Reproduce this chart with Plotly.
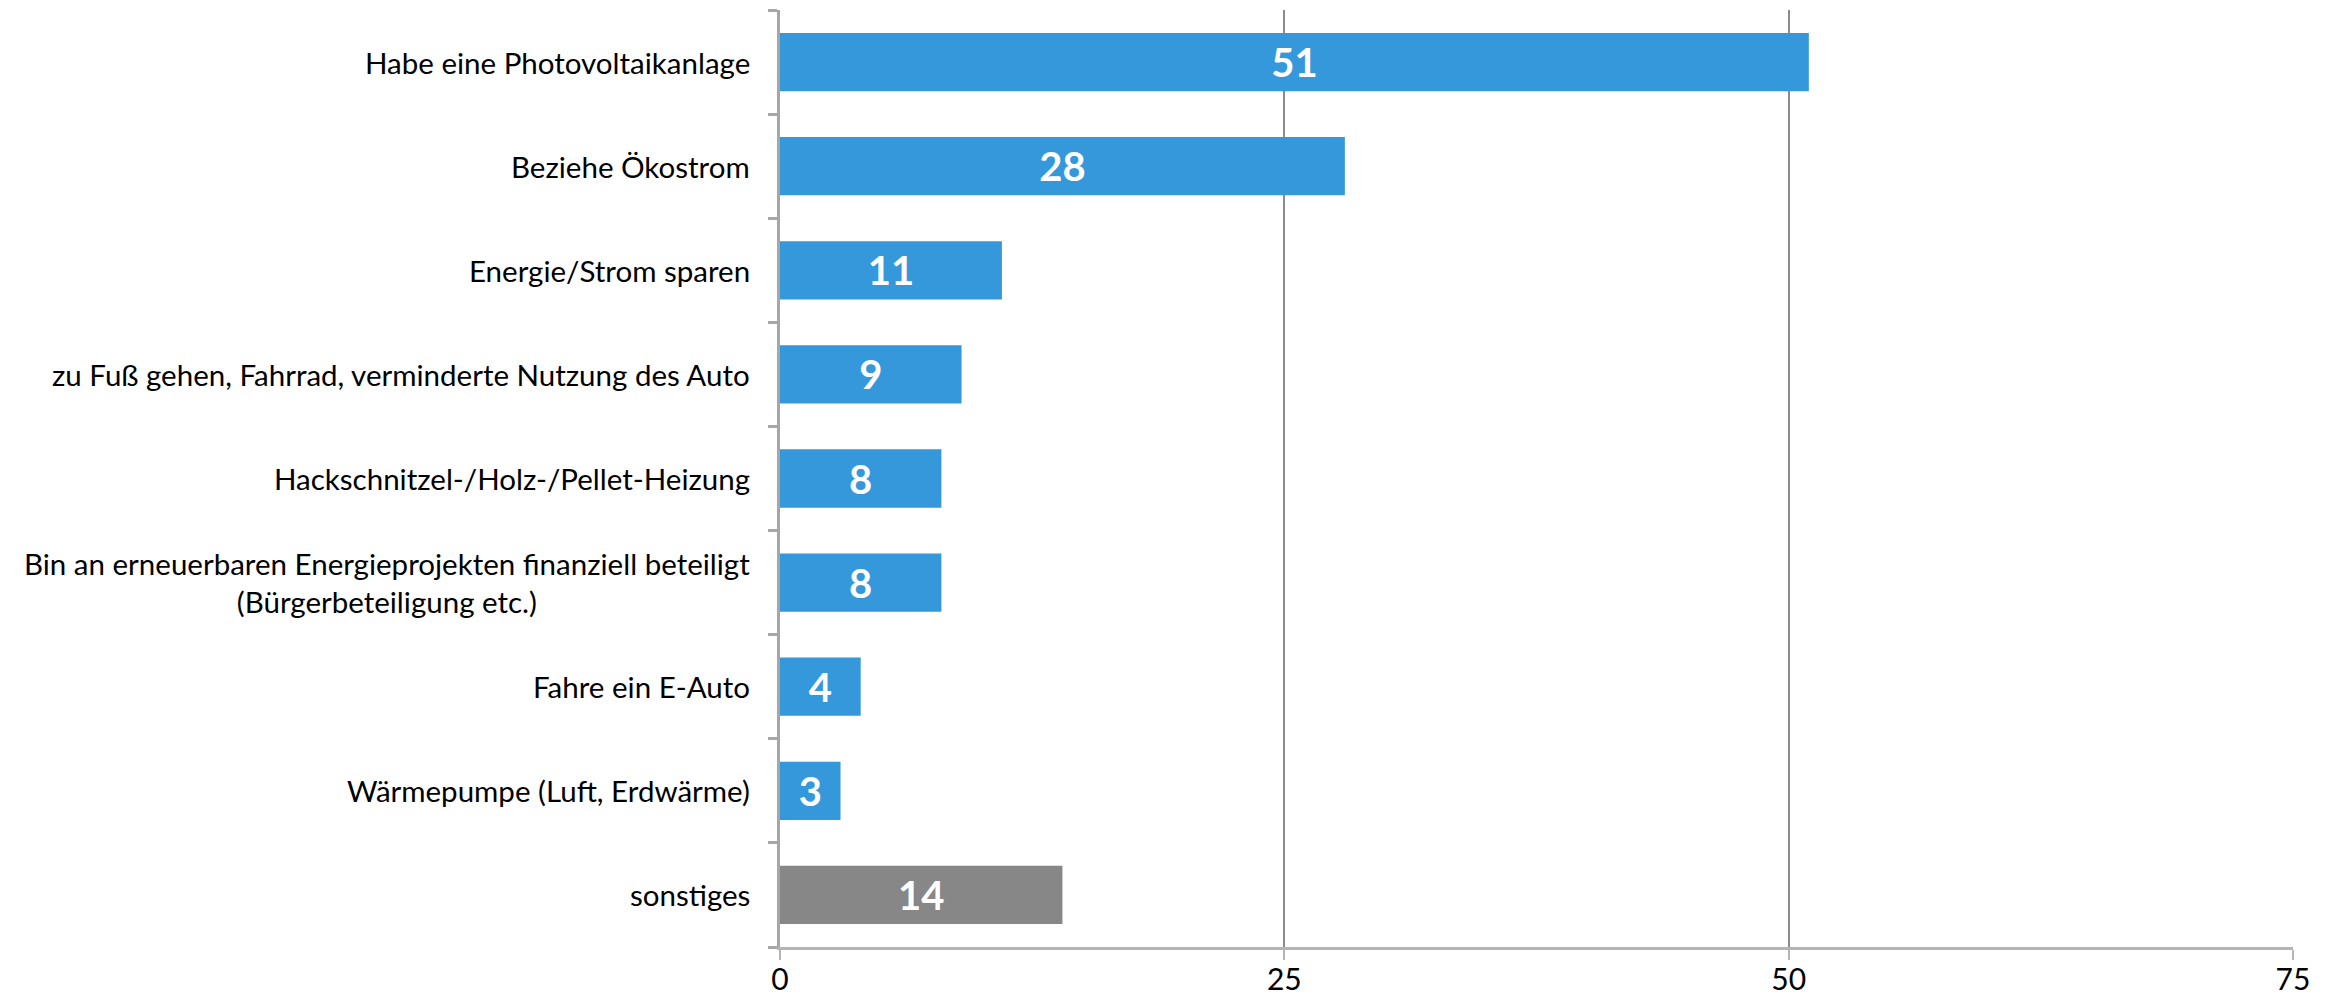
import plotly.graph_objects as go

categories = [
    "Habe eine Photovoltaikanlage",
    "Beziehe Ökostrom",
    "Energie/Strom sparen",
    "zu Fuß gehen, Fahrrad, verminderte Nutzung des Auto",
    "Hackschnitzel-/Holz-/Pellet-Heizung",
    "Bin an erneuerbaren Energieprojekten finanziell beteiligt<br>(Bürgerbeteiligung etc.)",
    "Fahre ein E-Auto",
    "Wärmepumpe (Luft, Erdwärme)",
    "sonstiges",
]
values = [51, 28, 11, 9, 8, 8, 4, 3, 14]
bar_colors = ["#3598DB"] * 8 + ["#878787"]
x_ticks = [0, 25, 50, 75]

FONT = "Lato"
W, H = 2338, 1001
ML, MR, MT, MB = 780, 45, 10, 54

fig = go.Figure(go.Bar(
    x=values,
    y=list(range(len(categories))),
    orientation="h",
    marker=dict(color=bar_colors, line=dict(width=0)),
    text=[str(v) for v in values],
    textposition="inside",
    insidetextanchor="middle",
    textangle=0,
    textfont=dict(family=FONT, size=40, color="white", weight="bold"),
    width=0.56,
    hoverinfo="skip",
))

for i, c in enumerate(categories):
    fig.add_annotation(
        x=0, xref="paper", y=i, yref="y",
        text=c, showarrow=False, xanchor="right", yanchor="middle",
        align="center", xshift=-28,
        font=dict(family=FONT, size=29.5, color="#000000"),
    )

fig.update_layout(
    width=W, height=H,
    margin=dict(l=ML, r=MR, t=MT, b=MB),
    plot_bgcolor="white", paper_bgcolor="white",
    showlegend=False,
    font=dict(family=FONT, color="#000000"),
)
fig.update_xaxes(
    range=[0, 75], tickvals=x_ticks, ticktext=[str(t) for t in x_ticks],
    showgrid=True, gridcolor="#8C8C8C", gridwidth=1.5,
    zeroline=False, showline=True, linecolor="#B4B4B4", linewidth=3,
    ticks="outside", ticklen=10, tickcolor="#B4B4B4", tickwidth=2,
    tickfont=dict(family=FONT, size=30, color="#000000"),
    ticklabelstandoff=-6,
    automargin=False,
)
fig.update_yaxes(
    range=[8.5, -0.5], tickmode="array",
    tickvals=[i - 0.5 for i in range(len(categories) + 1)],
    showticklabels=False,
    showgrid=False, zeroline=False,
    showline=True, linecolor="#A6A6A6", linewidth=3,
    ticks="outside", ticklen=9, tickcolor="#A6A6A6", tickwidth=3,
    automargin=False,
)

fig.write_html("out.html", config={"displayModeBar": False},
               post_script="document.body.style.margin='0';")
